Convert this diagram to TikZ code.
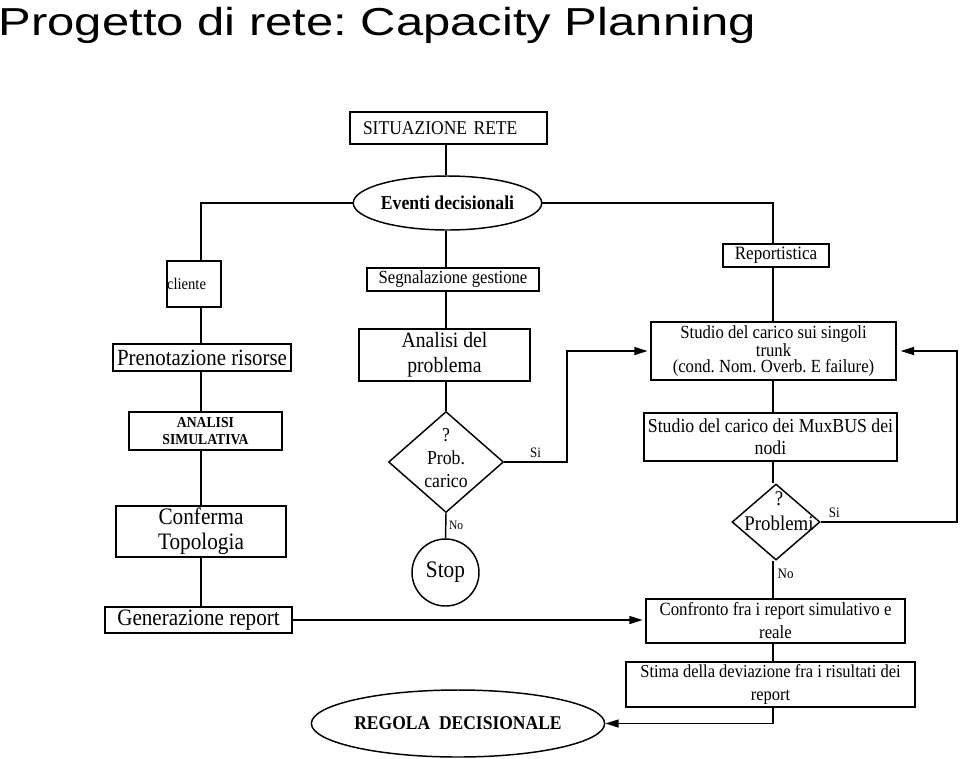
\documentclass[tikz,border=0pt]{standalone}
\usepackage{fontspec}
\setmainfont{Liberation Serif}[FakeStretch=0.9]
\newfontfamily\titlefont{Liberation Sans}[FakeStretch=1.256]
\usetikzlibrary{shapes.geometric,arrows.meta}
\frenchspacing

\newcommand{\fsz}[2]{\fontsize{#1}{#2}\selectfont}

\tikzset{every picture/.style={line width=1.1pt}}
\tikzset{
  box/.style={draw, rectangle, inner sep=0pt, align=center},
  oval/.style={draw, ellipse, inner sep=0pt, align=center},
  rhomb/.style={draw, diamond, inner sep=0pt},
  lbl/.style={inner sep=3pt, font=\fsz{10.8}{12}},
  arr/.style={-{Triangle[length=10pt,width=6pt]}},
}

\begin{document}
\begin{tikzpicture}[x=0.75pt,y=0.75pt,yscale=-1,xscale=1]
\useasboundingbox (0,0) rectangle (960,758);

% Title
\node[anchor=base west, inner sep=0pt, font=\titlefont\fsz{29.25}{35}] (title) at (-2,35) {Progetto di rete: Capacity Planning};

% column lines
\coordinate (lcol) at (201,0);
\coordinate (mcol) at (446,0);
\coordinate (rcol) at (773,0);
\coordinate (lloop) at (567,0);
\coordinate (rloop) at (957,0);

%Shape: Rectangle
\node[box, minimum height=24pt, text width=128.25pt, inner xsep=9.75pt, align=left, font=\fsz{14.6}{16}] (sit) at (448.5,128) {SITUAZIONE RETE};
%Shape: Ellipse
\node[oval, minimum width=117.75pt, minimum height=40.5pt, font=\bfseries\fsz{14.75}{16}] (ev) at (447.5,203) {Eventi decisionali};

% left branch
\node[box, text width=40.5pt, minimum height=34.5pt, align=left, font=\fsz{12.2}{14}] (cli) at (194,284) {cliente};
\node[box, minimum width=133.5pt, minimum height=20.25pt, font=\fsz{17.4}{19}] (pren) at (202,357.5) {Prenotazione risorse};
\node[box, minimum width=114.75pt, minimum height=28.5pt, font=\bfseries\fsz{11.4}{12.75}] (asim) at (205.5,431) {ANALISI\\SIMULATIVA};
\node[box, minimum width=127.5pt, minimum height=38.25pt, font=\fsz{17.7}{18.75}] (conf) at (201,531.5) {Conferma\\Topologia};
\node[box, minimum width=140.25pt, minimum height=19.5pt, font=\fsz{17.6}{19}] (gen) at (198.5,620) {Generazione report};

% middle branch
\node[box, minimum width=129pt, minimum height=17.25pt, font=\fsz{13.9}{15}] (seg) at (453,279.5) {Segnalazione gestione};
\node[box, minimum width=128.25pt, minimum height=39pt, font=\fsz{16.4}{18.75}] (anal) at (444.5,355) {Analisi del\\problema};
%Shape: Diamond
\node[rhomb, minimum width=86.25pt, minimum height=75.75pt] (prob) at (446,462) {};
% Text Node
\node[align=center, inner sep=0pt, font=\fsz{14.8}{17.25}] (probtxt) at (446,458) {?\\Prob.\\carico};
%Shape: Circle
\node[draw, circle, inner sep=0pt, minimum size=50.25pt, font=\fsz{17.75}{19}] (stop) at (445.5,572.5) {Stop};

% right branch
\node[box, minimum width=79.5pt, minimum height=17.25pt, font=\fsz{14.2}{15}] (rep) at (776,255.5) {Reportistica};
\node[box, minimum width=183.75pt, minimum height=43.5pt, font=\fsz{13.9}{12.4}] (trunk) at (773.5,351) {Studio del carico sui singoli\\trunk\\(cond. Nom. Overb. E failure)};
\node[box, minimum width=189.75pt, minimum height=36pt, font=\fsz{14.8}{16.5}] (mux) at (770.5,437) {Studio del carico dei MuxBUS dei\\nodi};
%Shape: Diamond
\node[rhomb, minimum width=66pt, minimum height=57pt] (pbl) at (776,522) {};
% Text Node
\node[align=center, inner sep=0pt, font=\fsz{15.7}{18.75}] (pbltxt) at (779,511) {?\\Problemi};
\node[box, minimum width=194.25pt, minimum height=33pt, font=\fsz{14}{17.25}] (confr) at (775.5,621) {Confronto fra i report simulativo e\\reale};
\node[box, minimum width=216.75pt, minimum height=33.75pt, font=\fsz{13.75}{17.25}] (stima) at (770.5,684.5) {Stima della deviazione fra i risultati dei\\report};
%Shape: Ellipse
\node[oval, minimum width=202.5pt, minimum height=50.25pt, font=\bfseries\fsz{14.6}{16}] (regola) at (458,723.5) {REGOLA\ \ DECISIONALE};

%Straight Lines
\draw (mcol |- sit.south) -- (mcol |- ev.north);
\draw (mcol |- ev.south) -- (mcol |- seg.north);
\draw (mcol |- seg.south) -- (mcol |- anal.north);
\draw (mcol |- anal.south) -- (prob.north);
\draw (prob.south) -- node[lbl, right, inner sep=2pt, font=\fsz{9.6}{11}] {No} (stop.north);
\draw[arr, shorten >=2pt] (prob.east) -- node[lbl, above] {Si} (lloop |- prob.east) |- (trunk.west);

\draw (ev.west) -| (lcol |- cli.north);
\draw (lcol |- cli.south) -- (lcol |- pren.north);
\draw (lcol |- pren.south) -- (lcol |- asim.north);
\draw (lcol |- asim.south) -- (lcol |- conf.north);
\draw (lcol |- conf.south) -- (lcol |- gen.north);
\draw[arr, shorten >=2pt] (gen.east) -- (gen.east -| confr.west);

\draw (ev.east) -| (rcol |- rep.north);
\draw (rcol |- rep.south) -- (rcol |- trunk.north);
\draw (rcol |- trunk.south) -- (rcol |- mux.north);
\draw (rcol |- mux.south) -- (rcol |- pbl.north);
\draw (rcol |- pbl.south) -- node[lbl, right, pos=0.35] {No} (rcol |- confr.north);
\draw (rcol |- confr.south) -- (rcol |- stima.north);
\draw[arr] (rcol |- stima.south) |- (regola.east);
\draw[arr, shorten >=3pt] (pbl.east) -- node[lbl, above, pos=0.1] {Si} (rloop |- pbl.east) |- (trunk.east);
\end{tikzpicture}
\end{document}
